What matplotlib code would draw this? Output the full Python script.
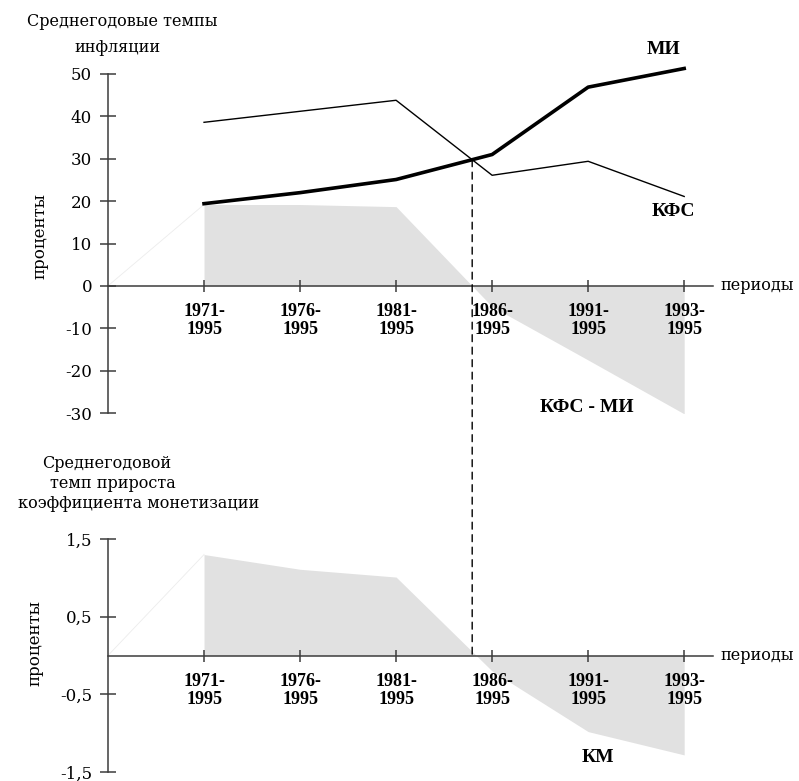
import numpy as np
import matplotlib
matplotlib.use("Agg")
import matplotlib.pyplot as plt
from matplotlib.patches import ConnectionPatch

# ---- data ----
periods = ["1971-\n1995", "1976-\n1995", "1981-\n1995", "1986-\n1995", "1991-\n1995", "1993-\n1995"]
kfs = [38.6, 41.2, 43.8, 26.1, 29.4, 21.1]      # КФС
mi = [19.4, 22.0, 25.1, 31.0, 46.9, 51.3]       # МИ
km = [1.30, 1.11, 1.01, -0.20, -0.98, -1.28]    # КМ
top_yticks = [-30, -20, -10, 0, 10, 20, 30, 40, 50]
bot_yticks = [-1.5, -0.5, 0.5, 1.5]
bot_ylabels = ["-1,5", "-0,5", "0,5", "1,5"]

W, H = 799, 781
fig = plt.figure(figsize=(W / 100, H / 100), dpi=100)

REG = "DejaVu Serif"
BOLD = "Liberation Serif"
AXC = "#3c3c3c"
FILL = "#e1e1e1"


def fx(px):
    return px / W


def fy(py):
    return 1 - py / H


pos = np.arange(1, len(periods) + 1)
kfs_a = np.array(kfs)
mi_a = np.array(mi)
diff = kfs_a - mi_a
km_a = np.array(km)


def style_axes(ax, yticks, ylabels):
    for s in ("top", "right"):
        ax.spines[s].set_visible(False)
    ax.spines["left"].set_position(("data", 0))
    ax.spines["bottom"].set_position(("data", 0))
    for s in ("left", "bottom"):
        ax.spines[s].set_color(AXC)
        ax.spines[s].set_linewidth(1.1)
    ax.set_xlim(0, 6.3)
    ax.set_xticks(pos)
    ax.set_xticklabels(periods, fontfamily=BOLD, fontweight="bold",
                       fontsize=13, linespacing=1.05)
    ax.tick_params(axis="x", direction="inout", length=9, width=1.1,
                   color=AXC, pad=8)
    ax.set_yticks(yticks)
    ax.set_yticklabels(ylabels, fontfamily=REG, fontsize=12)
    ax.tick_params(axis="y", direction="inout", length=11, width=1.1,
                   color=AXC, pad=6)
    ax.patch.set_visible(False)


# ---- top panel ----
ax1 = fig.add_axes([fx(108), fy(413), fx(605), (413 - 74) / H])
ax1.set_ylim(-30, 50)
ax1.fill_between(pos, diff, 0, color=FILL, lw=0, zorder=1)
ax1.plot([0, pos[0]], [0, diff[0]], color="#ececec", lw=0.6, zorder=1)
ax1.plot(pos, kfs_a, color="black", lw=1.0, zorder=3, clip_on=False)
ax1.plot(pos, mi_a, color="black", lw=2.6, zorder=3, clip_on=False)
style_axes(ax1, top_yticks, [str(t) for t in top_yticks])

# crossing point of КФС and МИ
i = int(np.where(np.diff(np.sign(diff)) != 0)[0][0])
t = diff[i] / (diff[i] - diff[i + 1])
xc = pos[i] + t
yc = mi_a[i] + t * (mi_a[i + 1] - mi_a[i])

# ---- bottom panel ----
ax2 = fig.add_axes([fx(108), fy(772), fx(605), (772 - 539) / H])
ax2.set_ylim(-1.5, 1.5)
ax2.fill_between(pos, km_a, 0, color=FILL, lw=0, zorder=1)
ax2.plot([0, pos[0]], [0, km_a[0]], color="#ececec", lw=0.6, zorder=1)
style_axes(ax2, bot_yticks, bot_ylabels)

con = ConnectionPatch(xyA=(xc, yc), coordsA=ax1.transData,
                      xyB=(xc, 0), coordsB=ax2.transData,
                      color="black", lw=1.0, linestyle=(0, (5, 4)), zorder=5)
fig.add_artist(con)

# ---- texts ----
fig.text(fx(122), fy(22), "Среднегодовые темпы", fontfamily=REG, fontsize=11.5,
         ha="center", va="center")
fig.text(fx(117), fy(47), "инфляции", fontfamily=REG, fontsize=11.5,
         ha="center", va="center")
fig.text(fx(40), fy(236), "проценты", fontfamily=REG, fontsize=12,
         ha="center", va="center", rotation=90)
fig.text(fx(35), fy(643), "проценты", fontfamily=REG, fontsize=12,
         ha="center", va="center", rotation=90)
fig.text(fx(720), fy(286), "периоды", fontfamily=REG, fontsize=11.5,
         ha="left", va="center")
fig.text(fx(720), fy(656), "периоды", fontfamily=REG, fontsize=11.5,
         ha="left", va="center")
fig.text(fx(107), fy(463), "Среднегодовой", fontfamily=REG, fontsize=11.5,
         ha="center", va="center")
fig.text(fx(113), fy(484), "темп прироста", fontfamily=REG, fontsize=11.5,
         ha="center", va="center")
fig.text(fx(139), fy(504), "коэффициента монетизации", fontfamily=REG,
         fontsize=11.5, ha="center", va="center")

fig.text(fx(664), fy(50), "МИ", fontfamily=BOLD, fontweight="bold",
         fontsize=14, ha="center", va="center")
fig.text(fx(673), fy(212), "КФС", fontfamily=BOLD, fontweight="bold",
         fontsize=14, ha="center", va="center")
fig.text(fx(587), fy(407), "КФС - МИ", fontfamily=BOLD, fontweight="bold",
         fontsize=14, ha="center", va="center")
fig.text(fx(598), fy(758), "КМ", fontfamily=BOLD, fontweight="bold",
         fontsize=14, ha="center", va="center")

fig.savefig("out.png", dpi=100)
